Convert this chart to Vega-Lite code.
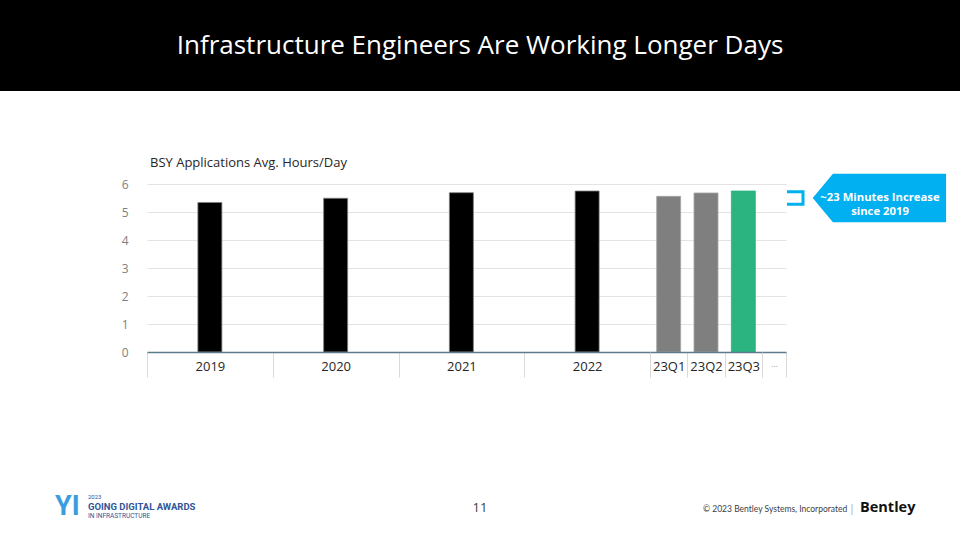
{
  "$schema": "https://vega.github.io/schema/vega-lite/v6.json",
  "padding": 0,
  "background": "white",
  "spacing": 93,
  "bounds": "flush",
  "config": {
    "font": "Open Sans",
    "view": {"stroke": null},
    "concat": {"spacing": 0}
  },
  "datasets": {
    "years": [
      {"period": "2019", "kind": "year", "hours": 5.34},
      {"period": "2020", "kind": "year", "hours": 5.49},
      {"period": "2021", "kind": "year", "hours": 5.69},
      {"period": "2022", "kind": "year", "hours": 5.75}
    ],
    "quarters": [
      {"period": "23Q1", "kind": "quarter", "hours": 5.56},
      {"period": "23Q2", "kind": "quarter", "hours": 5.68},
      {"period": "23Q3", "kind": "current", "hours": 5.75}
    ],
    "more": [
      {"period": "…", "kind": "quarter", "hours": null}
    ],
    "callout": [
      {"level": 5.5, "label": "~23 Minutes Increase\nsince 2019"}
    ]
  },
  "vconcat": [
    {
      "width": 960,
      "height": 91,
      "view": {"fill": "#000000", "stroke": null},
      "data": {"values": [{"title": "Infrastructure Engineers Are Working Longer Days"}]},
      "mark": {"type": "text", "color": "#ffffff", "fontSize": 26, "font": "Open Sans", "align": "center", "baseline": "middle"},
      "encoding": {"text": {"field": "title"}}
    },
    {
      "spacing": 0,
      "bounds": "flush",
      "hconcat": [
        {
          "width": 147,
          "height": 168,
          "data": {"values": [{"t": ""}]},
          "mark": {"type": "text"},
          "encoding": {"text": {"field": "t"}}
        },
        {
          "width": 503,
          "height": 168,
          "title": {"text": "BSY Applications Avg. Hours/Day", "anchor": "start", "frame": "group", "fontSize": 13, "fontWeight": "normal", "color": "#262626", "baseline": "alphabetic", "offset": 17, "dx": 3, "dy": 19},
          "data": {"name": "years"},
          "mark": {"type": "bar", "width": 24, "strokeWidth": 0.8},
          "encoding": {
            "x": {"field": "period", "type": "nominal", "sort": null,
              "scale": {"paddingInner": 0, "paddingOuter": 0},
              "axis": {"title": null, "labelAngle": 0, "domainColor": "#5d7b8a", "domainWidth": 1.5, "tickBand": "extent", "tickSize": 25, "tickColor": "#d9d9d9", "tickWidth": 1, "labelPadding": -17, "labelFontSize": 13, "labelColor": "#262626", "zindex": 1}},
            "y": {"field": "hours", "type": "quantitative", "scale": {"domain": [0, 6]},
              "axis": {"title": null, "values": [0, 1, 2, 3, 4, 5, 6], "domain": false, "ticks": false, "grid": true, "gridColor": "#e3e3e3", "labelColor": "#808080", "labelFontSize": 12, "labelPadding": 19}},
            "color": {"field": "kind", "type": "nominal", "scale": {"domain": ["year", "quarter", "current"], "range": ["#000000", "#7f7f7f", "#2bb380"]}, "legend": null},
            "stroke": {"field": "kind", "type": "nominal", "scale": {"domain": ["year", "quarter", "current"], "range": ["#7f7f7f", "#a6a6a6", "#2bb380"]}, "legend": null}
          }
        },
        {
          "width": 112,
          "height": 168,
          "data": {"name": "quarters"},
          "mark": {"type": "bar", "width": 24, "strokeWidth": 0.8},
          "encoding": {
            "x": {"field": "period", "type": "nominal", "sort": null,
              "scale": {"paddingInner": 0, "paddingOuter": 0},
              "axis": {"title": null, "labelAngle": 0, "domainColor": "#5d7b8a", "domainWidth": 1.5, "tickBand": "extent", "tickSize": 25, "tickColor": "#d9d9d9", "tickWidth": 1, "labelPadding": -17, "labelFontSize": 13, "labelColor": "#262626", "zindex": 1}},
            "y": {"field": "hours", "type": "quantitative", "scale": {"domain": [0, 6]},
              "axis": {"title": null, "values": [0, 1, 2, 3, 4, 5, 6], "domain": false, "ticks": false, "labels": false, "grid": true, "gridColor": "#e3e3e3"}},
            "color": {"field": "kind", "type": "nominal", "scale": {"domain": ["year", "quarter", "current"], "range": ["#000000", "#7f7f7f", "#2bb380"]}, "legend": null},
            "stroke": {"field": "kind", "type": "nominal", "scale": {"domain": ["year", "quarter", "current"], "range": ["#7f7f7f", "#a6a6a6", "#2bb380"]}, "legend": null}
          }
        },
        {
          "width": 24,
          "height": 168,
          "data": {"name": "more"},
          "mark": {"type": "bar", "width": 24},
          "encoding": {
            "x": {"field": "period", "type": "nominal",
              "scale": {"domain": ["…"], "paddingInner": 0, "paddingOuter": 0},
              "axis": {"title": null, "labelAngle": 0, "domainColor": "#5d7b8a", "domainWidth": 1.5, "tickBand": "extent", "tickSize": 25, "tickColor": "#d9d9d9", "tickWidth": 1, "labelPadding": -18, "labelFontSize": 9, "labelColor": "#a6a6a6", "zindex": 1}},
            "y": {"field": "hours", "type": "quantitative", "scale": {"domain": [0, 6]},
              "axis": {"title": null, "values": [0, 1, 2, 3, 4, 5, 6], "domain": false, "ticks": false, "labels": false, "grid": true, "gridColor": "#e3e3e3"}},
            "color": {"value": "#7f7f7f"}
          }
        },
        {
          "width": 174,
          "height": 168,
          "data": {"name": "callout"},
          "encoding": {
            "y": {"field": "level", "type": "quantitative", "scale": {"domain": [0, 6]}, "axis": null}
          },
          "layer": [
            {
              "mark": {"type": "point", "shape": "M-0.85,-0.63 L0.75,-0.63 L0.75,0.63 L-0.85,0.63", "size": 400, "filled": false, "stroke": "#00b0f0", "strokeWidth": 3, "opacity": 1, "xOffset": -77.5}
            },
            {
              "mark": {"type": "point", "shape": "M-1,0 L-0.697,-0.365 L1,-0.365 L1,0.365 L-0.697,0.365 Z", "size": 17770, "filled": true, "fill": "#00b0f0", "strokeWidth": 0, "opacity": 1, "xOffset": 6.4}
            },
            {
              "mark": {"type": "text", "color": "#ffffff", "fontSize": 11.3, "fontWeight": "bold", "lineBreak": "\n", "lineHeight": 13.5, "align": "center", "baseline": "middle", "xOffset": 7, "dy": 0},
              "encoding": {"text": {"field": "label"}}
            }
          ]
        }
      ]
    },
    {
      "width": 960,
      "height": 263,
      "layer": [
        {
          "data": {"values": [{"t": "11"}]},
          "mark": {"type": "text", "fontSize": 13, "color": "#404040", "align": "center", "dy": 99.5},
          "encoding": {"text": {"field": "t"}}
        },
        {
          "data": {"values": [{"t": "©  2023 Bentley Systems, Incorporated"}]},
          "mark": {"type": "text", "fontSize": 8.5, "font": "Lato", "color": "#404040", "align": "left", "dx": 223, "dy": 100.5},
          "encoding": {"text": {"field": "t"}}
        },
        {
          "data": {"values": [{"t": "|"}]},
          "mark": {"type": "text", "fontSize": 10, "color": "#a0a0a0", "align": "center", "dx": 372, "dy": 100},
          "encoding": {"text": {"field": "t"}}
        },
        {
          "data": {"values": [{"t": "Bentley"}]},
          "mark": {"type": "text", "fontSize": 14.5, "fontWeight": "bold", "font": "Open Sans", "color": "#111111", "align": "left", "dx": 380, "dy": 99.5},
          "encoding": {"text": {"field": "t"}}
        },
        {
          "data": {"values": [{"t": "YI"}]},
          "mark": {"type": "text", "fontSize": 27, "fontWeight": "bold", "font": "Roboto", "color": "#3a9de0", "align": "left", "dx": -425, "dy": 98},
          "encoding": {"text": {"field": "t"}}
        },
        {
          "data": {"values": [{"t": "2023"}]},
          "mark": {"type": "text", "fontSize": 6, "font": "Roboto", "color": "#2f5597", "align": "left", "dx": -392, "dy": 88.5},
          "encoding": {"text": {"field": "t"}}
        },
        {
          "data": {"values": [{"t": "GOING DIGITAL AWARDS"}]},
          "mark": {"type": "text", "fontSize": 9.5, "fontWeight": "bold", "font": "Roboto", "color": "#2f5597", "align": "left", "dx": -392, "dy": 98},
          "encoding": {"text": {"field": "t"}}
        },
        {
          "data": {"values": [{"t": "IN INFRASTRUCTURE"}]},
          "mark": {"type": "text", "fontSize": 6.5, "font": "Roboto", "color": "#2f5597", "align": "left", "dx": -392, "dy": 107},
          "encoding": {"text": {"field": "t"}}
        }
      ]
    }
  ]
}
